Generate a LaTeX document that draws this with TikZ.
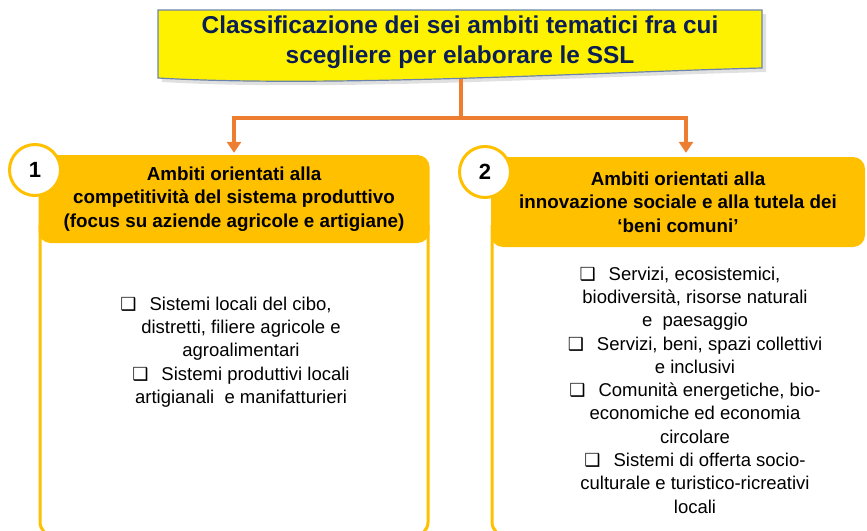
\documentclass[tikz,border=0pt]{standalone}
\usepackage{fontspec}
\setmainfont{Liberation Sans}
\newfontfamily\dejavu{DejaVu Sans}
\usetikzlibrary{arrows.meta}
\definecolor{gold}{HTML}{FFC000}
\definecolor{arrorange}{HTML}{ED7D31}
\definecolor{navy}{HTML}{0B1F55}
\definecolor{titleborder}{HTML}{6A84AE}
\newcommand{\bx}{{\dejavu\fontsize{18}{18}\selectfont ❑}\hspace{13pt}}
\tikzset{
  hdr/.style={fill=gold, rounded corners=12pt, inner sep=0pt, align=center,
    font=\bfseries\fontsize{18.8}{23.5}\selectfont, text=black},
  outline/.style={draw=gold, line width=3pt, rounded corners=14pt},
  num/.style={circle, draw=gold, line width=3pt, fill=white, minimum size=51pt,
    inner sep=0pt, font=\bfseries\fontsize{22}{22}\selectfont},
  bodytext/.style={align=center, font=\fontsize{18.5}{23.3}\selectfont, inner sep=0pt},
  titletext/.style={align=center, font=\bfseries\fontsize{24.4}{30}\selectfont, text=navy, inner sep=0pt},
  arr/.style={draw=arrorange, line width=4pt, -{Triangle[width=14pt,length=11pt]}},
  link/.style={draw=arrorange, line width=4pt}
}
\begin{document}
\begin{tikzpicture}[x=1pt,y=-1pt]
\useasboundingbox (0,0) rectangle (867,530);
\clip (0,0) rectangle (867,530);
% title document shape
\fill[black!12] (162,14) -- (766,14) -- (766,72) .. controls (600,76) and (330,92) .. (162,82) -- cycle;
\filldraw[fill=yellow, draw=titleborder, line width=1.2pt] (158,10) -- (762,10) -- (762,68) .. controls (600,72) and (330,88) .. (158,78) -- cycle;
\node[titletext] (title) at (460,42) {Classificazione dei sei ambiti tematici fra cui\\scegliere per elaborare le SSL};
\coordinate (tb) at (461,79);
\coordinate (split) at (461,118);
% outlines of the two boxes
\draw[outline] (40,225) -- (40,536) -- (428,536) -- (428,225);
\draw[outline] (492,225) -- (492,536) -- (880,536);
% headers
\node[hdr, minimum width=391pt, minimum height=88pt] (h1) at (234,199)
  {Ambiti orientati alla\\competitività del sistema produttivo\\(focus su aziende agricole e artigiane)};
\node[hdr, minimum width=374pt, minimum height=90pt] (h2) at (678,202)
  {Ambiti orientati alla\\innovazione sociale e alla tutela dei\\‘beni comuni’};
\node[num] (n1) at (35,170) {1};
\node[num] (n2) at (485,172) {2};
% connectors
\draw[link] (tb) -- (split);
\draw[arr, shorten >=2pt] (split) -| (h1.north);
\draw[arr, shorten >=4pt] (split) -| ([xshift=8pt]h2.north);
% body texts
\node[bodytext] (b1) at (241,352)
  {\bx Sistemi locali del cibo,\hspace*{30pt}\\
   distretti, filiere agricole e\\
   agroalimentari\\
   \bx Sistemi produttivi locali\hspace*{30pt}\\
   artigianali\ \ e manifatturieri};
\node[bodytext] (b2) at (695,390)
  {\bx Servizi, ecosistemici,\hspace*{30pt}\\
   biodiversità, risorse naturali\\
   e\ \ paesaggio\\
   \bx Servizi, beni, spazi collettivi\hspace*{30pt}\\
   e inclusivi\\
   \bx Comunità energetiche, bio-\hspace*{30pt}\\
   economiche ed economia\\
   circolare\\
   \bx Sistemi di offerta socio-\hspace*{30pt}\\
   culturale e turistico-ricreativi\\
   locali};
\end{tikzpicture}
\end{document}
